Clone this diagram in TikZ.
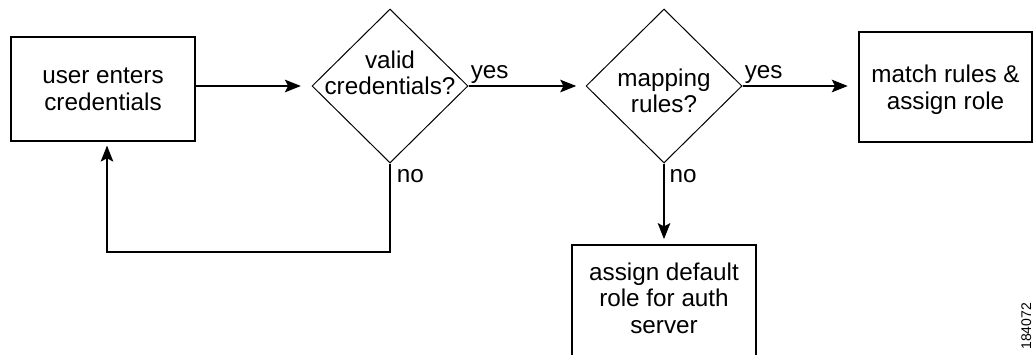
\documentclass[tikz,border=0pt]{standalone}
\usepackage{fontspec}
\setmainfont{Liberation Sans}
\usepackage{tikz}
\usetikzlibrary{arrows.meta,shapes.geometric}
\tikzset{every node/.style={font=\fontsize{18.2}{20}\selectfont}}
\colorlet{linecol}{black}
\colorlet{textcol}{black}
\tikzset{
  stepbox/.style={rectangle, draw=linecol, line width=0.9pt, align=center,
    inner sep=0pt, text=textcol},
  decision/.style={diamond, draw=linecol, line width=0.75pt, inner sep=0pt,
    minimum width=117pt, minimum height=115.5pt},
  inside/.style={align=center, inner sep=0pt, text=textcol},
  branch/.style={anchor=base west, inner sep=0pt, text=textcol},
  flow/.style={-{Stealth[length=12pt, width=9.5pt, inset=2.5pt]},
    line width=0.8pt, draw=linecol},
  tag/.style={font=\fontsize{10.5}{11}\selectfont, inner sep=0pt}
}

\begin{document}
\begin{tikzpicture}[x=0.75pt, y=-0.75pt]

  % Page frame.
  \useasboundingbox (0,0) rectangle (1034,354);
  \clip (0,0) rectangle (1034,354);

  % Boxes.
  \node[stepbox, minimum width=138pt, minimum height=78pt] (user)
    at (103,89) {user enters\\credentials};
  \node[stepbox, minimum width=129.75pt, minimum height=82.5pt,
    label={[inside, yshift=-2pt]center:{match rules \&\\assign role}}]
    (match) at (945.5,87) {};
  \node[stepbox, minimum width=138pt, minimum height=97.5pt,
    label={[inside, yshift=9pt]center:{assign default\\role for auth\\server}}]
    (default) at (664,310) {};

  % Decisions.
  \node[decision, label={[inside, yshift=10pt]center:{valid\\credentials?}}]
    (valid) at (390,86) {};
  \node[decision, label={[inside, yshift=-3.5pt]center:{mapping\\rules?}}]
    (mapping) at (664,86) {};

  % Forward arrows.
  \draw[flow, shorten >=8pt] (valid.west -| user.east) -- (valid.west);
  \draw[flow, shorten >=7pt] (valid.east) -- (mapping.west);
  \draw[flow, shorten >=8pt] (mapping.east) -- (mapping.east -| match.west);
  \draw[flow, shorten >=4pt] (mapping.south) -- (default.north);

  % Back to the login box.
  \coordinate (loop) at (390,252);
  \draw[flow, shorten >=3pt] (valid.south) -- (loop)
    -| ([xshift=3pt]user.south);

  % Branch labels.
  \node[branch] (yes1) at ([shift={(1.5pt,6pt)}]valid.east) {yes};
  \node[branch] (yes2) at ([shift={(1.5pt,6pt)}]mapping.east) {yes};
  \node[branch] (no1) at ([shift={(5pt,-14pt)}]valid.south) {no};
  \node[branch] (no2) at ([shift={(4pt,-14pt)}]mapping.south) {no};

  % Figure number.
  \node[tag, rotate=90, anchor=base west] (figno) at (1031,350) {184072};

\end{tikzpicture}
\end{document}
